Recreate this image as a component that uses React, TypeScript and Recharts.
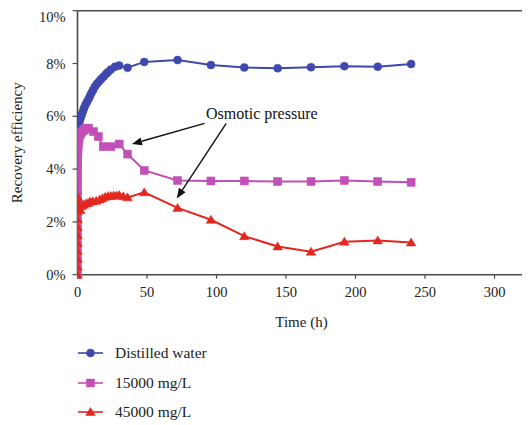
import React from 'react';
import { LineChart, Line, XAxis, YAxis, ReferenceLine, ReferenceDot } from 'recharts';

// ---- data ----
const distilledTime = [0, 0.1, 0.3, 0.5, 0.8, 1.2, 1.8, 2.5, 3.2, 4, 4.7, 5.7, 6.8, 8, 9, 10, 11.2, 12.5, 14, 15.5, 17, 18.7, 20.5, 22, 24, 27, 30, 36, 48, 72, 96, 120, 144, 168, 192, 216, 240];
const distilledValue = [5.1, 5.22, 5.35, 5.47, 5.6, 5.72, 5.86, 5.98, 6.09, 6.2, 6.31, 6.43, 6.54, 6.66, 6.77, 6.88, 7.0, 7.12, 7.23, 7.32, 7.41, 7.5, 7.6, 7.68, 7.77, 7.88, 7.92, 7.84, 8.06, 8.13, 7.94, 7.85, 7.82, 7.86, 7.9, 7.88, 7.98];

const brine15Time = [0, 0, 0, 0, 0, 0, 0, 0, 0, 0, 0, 0, 0, 0.02, 0.05, 0.08, 0.12, 0.18, 0.26, 0.36, 0.5, 0.7, 1, 1.5, 2.2, 3, 4, 5, 6, 8, 11.5, 15, 18.5, 24, 30, 36, 48, 72, 96, 120, 144, 168, 192, 216, 240];
const brine15Value = [0, 0.3, 0.6, 0.9, 1.2, 1.5, 1.8, 2.1, 2.4, 2.7, 3.0, 3.2, 3.4, 3.6, 3.8, 4.0, 4.2, 4.4, 4.6, 4.75, 4.9, 5.03, 5.15, 5.25, 5.33, 5.4, 5.45, 5.5, 5.55, 5.55, 5.42, 5.23, 4.85, 4.85, 4.95, 4.57, 3.95, 3.57, 3.55, 3.55, 3.53, 3.53, 3.57, 3.53, 3.5];

const brine45Time = [0, 0, 0, 0, 0, 0, 0, 0, 0, 0, 0, 0.5, 1, 2, 3, 4.5, 6, 7.5, 9, 11, 13.5, 16, 18, 20, 22, 24, 26, 28, 30, 33, 36, 48, 72, 96, 120, 144, 168, 192, 216, 240];
const brine45Value = [0, 0.3, 0.6, 0.9, 1.2, 1.5, 1.8, 2.1, 2.4, 2.7, 2.95, 2.9, 2.6, 2.45, 2.6, 2.65, 2.7, 2.72, 2.77, 2.78, 2.8, 2.85, 2.9, 2.95, 2.98, 2.98, 3.0, 3.0, 3.02, 2.97, 2.93, 3.12, 2.53, 2.08, 1.46, 1.07, 0.87, 1.25, 1.3, 1.22];

const seriesNames = ['Distilled water', '15000 mg/L', '45000 mg/L'];
const seriesColors = ['#3f48ae', '#c24fb6', '#e3271f'];
const seriesMarkers = ['circle', 'square', 'triangle'];

const xTicks = [0, 50, 100, 150, 200, 250, 300];
const yTicks = [0, 2, 4, 6, 8, 10];
const xTitle = 'Time (h)';
const yTitle = 'Recovery efficiency';

const annotationText = 'Osmotic pressure';
const annotationAnchor = { t: 92.5, v: 6.11 };
const arrowStarts = [{ t: 91.4, v: 5.73 }, { t: 107, v: 5.73 }];
const arrowEnds = [{ t: 39.2, v: 4.95 }, { t: 71.4, v: 2.89 }];

// ---- build ----
const toRows = (ts: number[], vs: number[]) => ts.map((t, i) => ({ t, v: vs[i] }));
const seriesData = [
  toRows(distilledTime, distilledValue),
  toRows(brine15Time, brine15Value),
  toRows(brine45Time, brine45Value),
];

const FONT = '"Liberation Serif", "Times New Roman", serif';
const AXIS = '#4a4a4a';

function marker(kind: string, cx: number, cy: number, color: string, key?: string) {
  if (kind === 'circle') return <circle key={key} cx={cx} cy={cy} r={4} fill={color} stroke={color} strokeWidth={0.5} />;
  if (kind === 'square') return <rect key={key} x={cx - 4} y={cy - 4} width={8} height={8} fill={color} stroke={color} strokeWidth={0.5} />;
  return <polygon key={key} points={`${cx},${cy - 4.5} ${cx + 4.8},${cy + 3.5} ${cx - 4.8},${cy + 3.5}`} fill={color} stroke={color} strokeWidth={0.5} />;
}

const makeDot = (kind: string, color: string) => (p: any) => {
  if (p.cx == null || p.cy == null) return <g key={`e-${p.index}`} />;
  return marker(kind, p.cx, p.cy, color, `d-${kind}-${p.index}`);
};

const arrowShape = (p: any) => {
  const { x1, y1, x2, y2 } = p;
  const ang = Math.atan2(y2 - y1, x2 - x1);
  const L = 10, W = 4;
  const bx = x2 - L * Math.cos(ang), by = y2 - L * Math.sin(ang);
  const px = -Math.sin(ang) * W, py = Math.cos(ang) * W;
  return (
    <g>
      <line x1={x1} y1={y1} x2={bx} y2={by} stroke="#111" strokeWidth={1.4} />
      <polygon points={`${x2},${y2} ${bx + px},${by + py} ${bx - px},${by - py}`} fill="#111" />
    </g>
  );
};

export default function App() {
  return (
    <div style={{ position: 'relative', width: 522, height: 417, overflow: 'hidden', fontFamily: FONT }}>
      <style>{'html,body{overflow:hidden;}'}</style>
      <LineChart width={566} height={417} margin={{ top: 2.7, right: 10, bottom: 120.3, left: 0 }}>
        <XAxis
          type="number"
          dataKey="t"
          domain={[0, 350]}
          ticks={xTicks}
          allowDataOverflow
          height={30}
          stroke={AXIS}
          axisLine={{ stroke: AXIS, strokeWidth: 1.6 }}
          tickLine={{ stroke: AXIS, strokeWidth: 1.2 }}
          tickSize={4}
          tickMargin={8}
          tick={{ fill: '#222', fontSize: 14.5, fontFamily: FONT }}
          label={{
            content: (props: any) => {
              const vb = props.viewBox;
              return (
                <text x={vb.x + 224} y={vb.y + 47.5} textAnchor="middle" dominantBaseline="central" fontSize={15} fontFamily={FONT} fill="#222">
                  {xTitle}
                </text>
              );
            },
          }}
        />
        <YAxis
          type="number"
          domain={[0, 10]}
          ticks={yTicks}
          width={69.5}
          stroke={AXIS}
          axisLine={{ stroke: AXIS, strokeWidth: 1.6 }}
          tickLine={{ stroke: AXIS, strokeWidth: 1.2 }}
          tickSize={5}
          tickMargin={7}
          tickFormatter={(v: number) => `${v}%`}
          tick={{ fill: '#222', fontSize: 14.5, fontFamily: FONT }}
          label={{
            content: (props: any) => {
              const vb = props.viewBox;
              const cx = vb.x + 9.5;
              const cy = vb.y + vb.height / 2;
              return (
                <text x={cx} y={cy} transform={`rotate(-90 ${cx} ${cy})`} textAnchor="middle" dominantBaseline="central" fontSize={15} fontFamily={FONT} fill="#222">
                  {yTitle}
                </text>
              );
            },
          }}
        />
        <ReferenceLine y={10} stroke={AXIS} strokeWidth={1.6} ifOverflow="visible" />
        {seriesData.map((d, i) => (
          <Line
            key={seriesNames[i]}
            data={d}
            dataKey="v"
            name={seriesNames[i]}
            type="linear"
            stroke={seriesColors[i]}
            strokeWidth={2}
            dot={makeDot(seriesMarkers[i], seriesColors[i])}
            activeDot={false}
            isAnimationActive={false}
          />
        ))}
        {arrowStarts.map((s, i) => (
          <ReferenceLine
            key={`arrow-${i}`}
            segment={[{ x: s.t, y: s.v }, { x: arrowEnds[i].t, y: arrowEnds[i].v }]}
            ifOverflow="visible"
            shape={arrowShape}
          />
        ))}
        <ReferenceDot
          x={annotationAnchor.t}
          y={annotationAnchor.v}
          r={0}
          fill="none"
          stroke="none"
          ifOverflow="visible"
          label={{ value: annotationText, position: 'right', offset: 0, fontSize: 16, fontFamily: FONT, fill: '#111' }}
        />
      </LineChart>
      <div style={{ position: 'absolute', left: 70, top: 330.8 }}>
        {seriesNames.map((n, i) => (
          <div key={n} style={{ display: 'flex', alignItems: 'center', height: 29.2 }}>
            <svg width={26} height={14} style={{ display: 'block' }}>
              <line x1={0} y1={7} x2={25} y2={7} stroke={seriesColors[i]} strokeWidth={1.6} />
              {marker(seriesMarkers[i], 12.5, 7, seriesColors[i])}
            </svg>
            <span style={{ marginLeft: 11, fontSize: 15.5, color: '#222', fontFamily: FONT, lineHeight: '18px' }}>{n}</span>
          </div>
        ))}
      </div>
    </div>
  );
}
